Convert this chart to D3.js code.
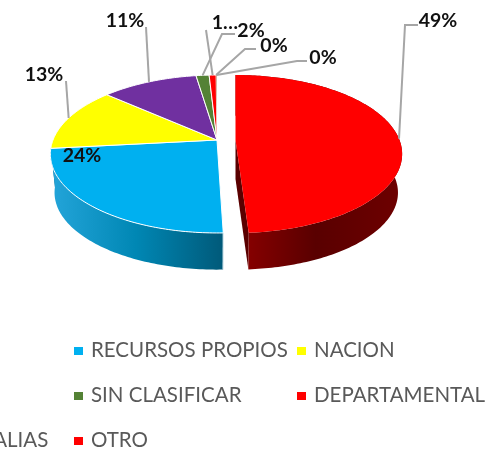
<!DOCTYPE html>
<html><head><meta charset="utf-8">
<script src="https://cdn.jsdelivr.net/npm/d3@7"></script>
<style>html,body{margin:0;padding:0;background:#fff;overflow:hidden}svg{display:block;filter:blur(.35px)}text{font-family:Lato,"Open Sans",sans-serif}</style>
</head><body><svg id="c" width="504" height="451"></svg>
<script>
// data (clockwise from 12 o'clock)
const categories=["DEPARTAMENTAL","RECURSOS PROPIOS","NACION","REGALIAS","SIN CLASIFICAR","OTRO","ND1","ND2"];
const values=[49.5,23.8,13.2,11.1,1.5,0.8,0.05,0.05];
const pctLabels=["49%","24%","13%","11%","2%","1…","0%","0%"];
const legendNames=["RECURSOS PROPIOS","NACION","SIN CLASIFICAR","DEPARTAMENTAL","REGALIAS","OTRO"];
// styles & layout
const topColors=["#ff0000","#00b0f0","#ffff00","#7030a0","#548235","#ff0000","#ed7d31","#a5a5a5"];
const legendColors=["#00b0f0","#ffff00","#548235","#ff0000","#7030a0","#ff0000"];
const legendX=[74,297,74,297,-63,74], legendY=[351,351,396,396,441,441];
const labelPos=[[438,20],[82,155],[44,74],[125,20],[251,30],[225,22],[274,45],[323,57]];
const elbows=[[[418,25],[405,25]],null,[[66,81]],[[146,27]],[[235,34],[222,34]],[[206,30]],[[256,49],[245,49]],[[307,61],[297,61]]];
const cx=217,cy=140,R=164,S=76.5,K=0.177,DEPTH=39,SHRINK=0.975,EXPLODE=18.5,RED_TRIM=2;
const toRad=Math.PI/180;
const project=(a,r=1,depth=0,ox=0)=>{const u=Math.sin(a)*r,v=-Math.cos(a)*r,w=1-K*v,s=depth?SHRINK:1;
  return [cx+ox+s*R*u/w, cy+depth+s*S*v/w];};
const svg=d3.select("#c");
const pie=d3.pie().sort(null).value(d=>d)(values);
const line=d3.line();
const defs=svg.append("defs");
const grad=(id,x1,x2,stops)=>{const g=defs.append("linearGradient").attr("id",id).attr("gradientUnits","userSpaceOnUse").attr("x1",x1).attr("x2",x2).attr("y1",0).attr("y2",0);
  stops.forEach(s=>g.append("stop").attr("offset",s[0]).attr("stop-color",s[1]));};
grad("wR",245,402,[[0,"#870000"],[.45,"#590000"],[1,"#6e0000"]]);
grad("wB",50,222,[[0,"#24a5da"],[.5,"#0087b4"],[1,"#005a7a"]]);
const wallFill=i=>i===0?"url(#wR)":"url(#wB)";
const endOf=(d,i)=>i===0?d.endAngle-RED_TRIM*toRad:d.endAngle;
const arcPts=(a0,a1,fn)=>{const n=Math.max(2,Math.ceil((a1-a0)/toRad));return d3.range(n+1).map(j=>fn(a0+(a1-a0)*j/n));};
// walls
pie.forEach((d,i)=>{ if(i>1)return;
  const ox=i===0?EXPLODE:0, e=endOf(d,i);
  const top=arcPts(d.startAngle,e,a=>project(a,1,0,ox));
  const bot=arcPts(d.startAngle,e,a=>project(a,1,DEPTH,ox)).reverse();
  svg.append("path").attr("d",line([project(0,0,0,ox),project(e,1,0,ox),project(e,1,DEPTH,ox),project(0,0,DEPTH,ox)])+"Z").attr("fill",i===0?"#5a0000":"#005a7a");
  svg.append("path").attr("d",line(top.concat(bot))+"Z").attr("fill",wallFill(i));
  if(i===1) svg.append("path").attr("d",line([project(d.startAngle,1,0),project(d.startAngle,1,DEPTH)])).attr("stroke","#dfeef4").attr("stroke-width",1.2).attr("fill","none");
});
// tops
pie.forEach((d,i)=>{const ox=i===0?EXPLODE:0;
  const pts=[project(0,0,0,ox)].concat(arcPts(d.startAngle,endOf(d,i),a=>project(a,1,0,ox)));
  svg.append("path").attr("d",line(pts)+"Z").attr("fill",topColors[i])
     .attr("stroke",i===0?"none":"#fff").attr("stroke-width",i<6&&i>0?1:0);
});
// leaders
pie.forEach((d,i)=>{ if(!elbows[i])return;
  const m=(d.startAngle+d.endAngle)/2;
  const rim=i>=6?project(d.startAngle,1,0):project(m,1,0,i===0?EXPLODE:0);
  svg.append("path").attr("d",line(elbows[i].concat([rim]))).attr("fill","none").attr("stroke","#a6a6a6").attr("stroke-width",2);
});
// labels
pctLabels.forEach((t,i)=>svg.append("text").attr("x",labelPos[i][0]).attr("y",labelPos[i][1]).attr("dy","0.35em").attr("text-anchor","middle").attr("font-size",19.5).attr("font-weight",700).attr("fill","#111").text(t));
// legend
legendNames.forEach((n,i)=>{
  svg.append("rect").attr("x",legendX[i]).attr("y",legendY[i]-4).attr("width",9).attr("height",8).attr("fill",legendColors[i]);
  svg.append("text").attr("x",legendX[i]+17).attr("y",legendY[i]-1).attr("dy","0.35em").attr("font-size",20.5).attr("fill","#595959").text(n);
});
</script></body></html>
